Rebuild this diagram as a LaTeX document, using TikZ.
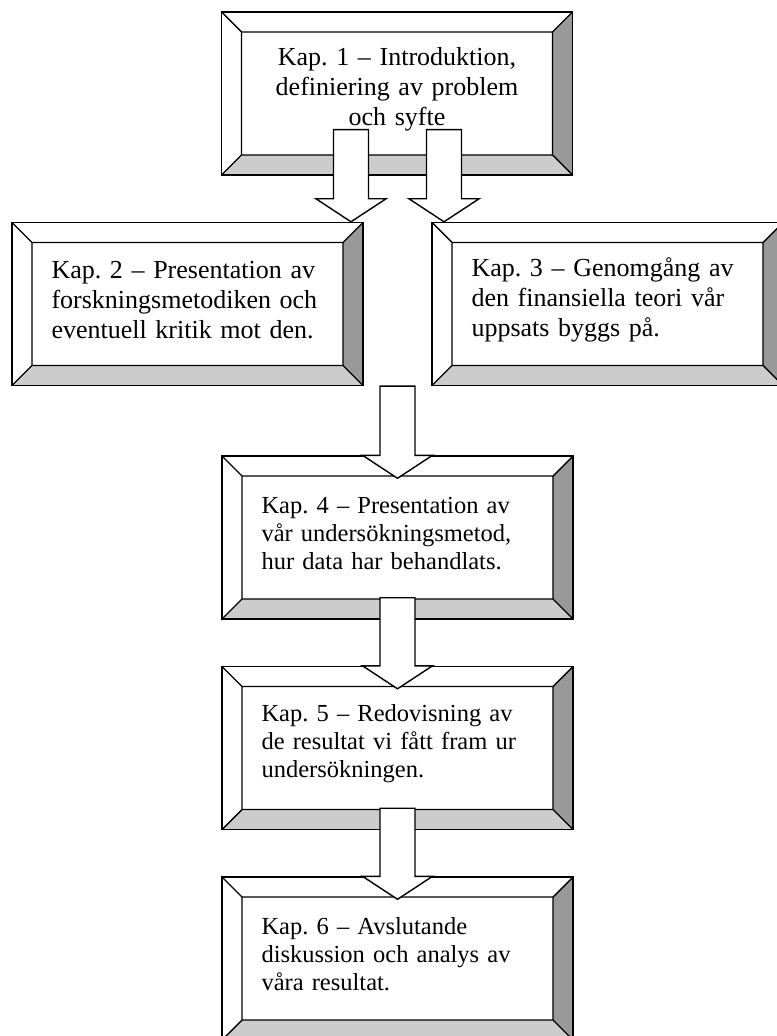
\documentclass[tikz,border=0pt]{standalone}
\usepackage{fontspec}
\setmainfont{Liberation Serif}
\usetikzlibrary{calc}
\frenchspacing

\tikzset{
  bevelbox/.style={draw, fill=white, line width=0.7pt,
    minimum width=175.5pt, minimum height=81.5pt, inner sep=0pt,
    text width=136pt, align=left, font=\fontsize{12.25}{14}\selectfont,
    execute at end node={\par\vspace{4pt}},
    path picture={
      \fill[box_light] let \p1=(path picture bounding box.south west), \p2=(path picture bounding box.north east) in
        (\x1,\y1) -- (\x1+10pt,\y1+10pt) -- (\x2-10pt,\y1+10pt) -- (\x2,\y1) -- cycle;
      \fill[box_dark] let \p1=(path picture bounding box.south west), \p2=(path picture bounding box.north east) in
        (\x2,\y1) -- (\x2-10pt,\y1+10pt) -- (\x2-10pt,\y2-10pt) -- (\x2,\y2) -- cycle;
      \draw[line width=0.7pt] let \p1=(path picture bounding box.south west), \p2=(path picture bounding box.north east) in
        (\x1+10pt,\y1+10pt) rectangle (\x2-10pt,\y2-10pt)
        (\x1,\y1) -- ++(10pt,10pt) (\x2,\y1) -- ++(-10pt,10pt)
        (\x1,\y2) -- ++(10pt,-10pt) (\x2,\y2) -- ++(-10pt,-10pt);
    }},
  bigtext/.style={font=\fontsize{13}{15}\selectfont},
  blockarrow/.style={draw, fill=white, line width=0.7pt, line join=miter}
}

% block arrow: #1 top of shaft, #2 tip
\newcommand\blockarrow[2]{%
  \draw[blockarrow] let \p1=#1, \p2=#2 in
    (\x1-8.75pt,\y1) -- (\x1-8.75pt,\y2+11.5pt) -- (\x1-17.5pt,\y2+11.5pt) -- (\x1,\y2)
    -- (\x1+17.5pt,\y2+11.5pt) -- (\x1+8.75pt,\y2+11.5pt) -- (\x1+8.75pt,\y1) -- cycle;}

\begin{document}
\begin{tikzpicture}[x=0.5pt,y=-0.5pt]
\definecolor{box_dark}{RGB}{153,153,153}
\definecolor{box_light}{RGB}{204,204,204}

\useasboundingbox (0,0) rectangle (776,1036);

\node[bevelbox, bigtext, align=center] (k1) at (397,93.5) {Kap. 1 -- Introduktion,\\definiering av problem\\och syfte};
\node[bevelbox, bigtext] (k2) at (187.5,304) {Kap. 2 -- Presentation av\\forskningsmetodiken och\\eventuell kritik mot den.};
\node[bevelbox, bigtext] (k3) at (607.5,304) {Kap. 3 -- Genomgång av\\den finansiella teori vår\\uppsats byggs på.};
\node[bevelbox] (k4) at (397.5,537.5) {Kap. 4 -- Presentation av\\vår undersökningsmetod,\\hur data har behandlats.};
\node[bevelbox] (k5) at (397.5,748) {Kap. 5 -- Redovisning av\\de resultat vi fått fram ur\\undersökningen.};
\node[bevelbox] (k6) at (397.5,958.5) {Kap. 6 -- Avslutande\\diskussion och analys av\\våra resultat.};

\blockarrow{([xshift=-23pt,yshift=23pt]k1.south)}{([xshift=-6pt]k2.north east)}
\blockarrow{([xshift=23.5pt,yshift=23pt]k1.south)}{([xshift=6pt]k3.north west)}
\blockarrow{(k4.north |- k2.south)}{([yshift=-11.5pt]k4.north)}
\foreach \a/\b in {k4/k5,k5/k6}
  \blockarrow{([yshift=11pt]\a.south)}{([yshift=-11.5pt]\b.north)};
\end{tikzpicture}
\end{document}
